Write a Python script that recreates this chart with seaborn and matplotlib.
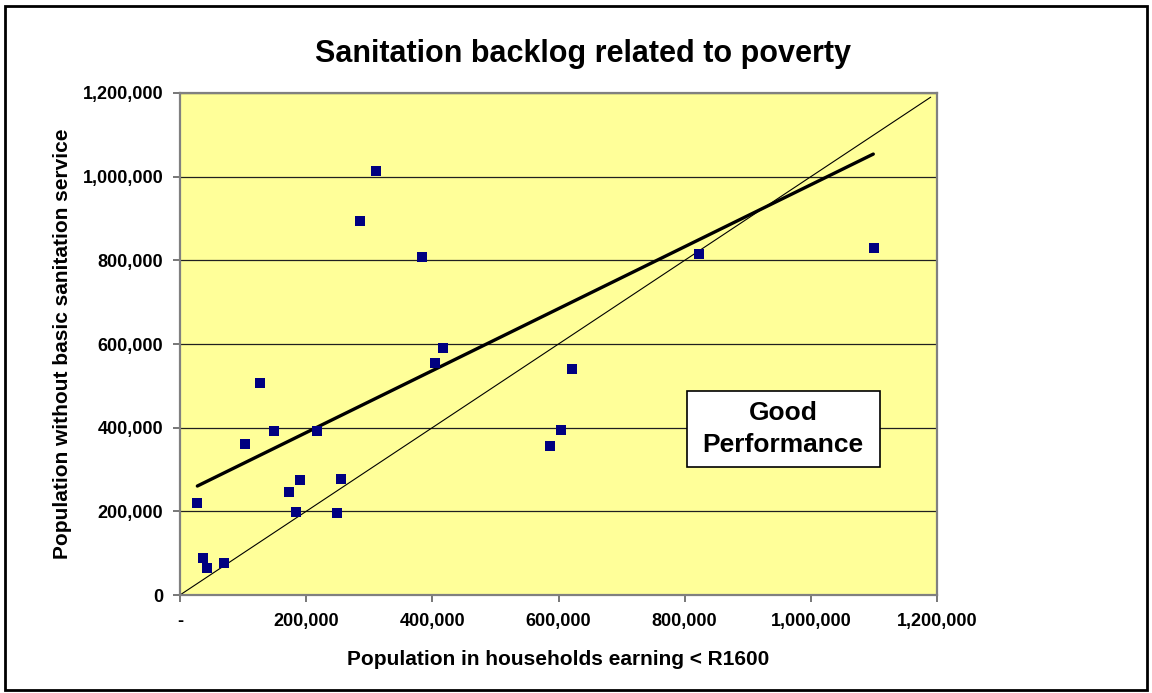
import matplotlib
matplotlib.use("Agg")
import matplotlib.pyplot as plt
import matplotlib.patches as mpatches
from matplotlib.ticker import FuncFormatter, MultipleLocator
import numpy as np
import pandas as pd
import seaborn as sns

# Population in households earning < R1600 (x) vs population without basic sanitation (y)
poor_population = [26400, 37000, 43300, 70300, 102500, 127300, 149500, 173300,
                   184400, 190700, 217600, 249600, 255700, 285800, 310200, 384000,
                   404700, 417300, 587000, 604400, 622000, 822000, 1099500]
no_sanitation = [220600, 89200, 64500, 75700, 360000, 506000, 391000, 245400,
                 199200, 274000, 392700, 195200, 276500, 894600, 1012600, 808600,
                 555200, 589600, 356100, 393600, 539400, 814200, 828600]

# Trend line end points and the equal-ratio reference line
trend_x = [27500, 1099000]
trend_y = [260500, 1054000]
parity_x = [0, 1190000]
parity_y = [0, 1190000]

title_text = "Sanitation backlog related to poverty"
x_label = "Population in households earning < R1600"
y_label = "Population without basic sanitation service"
box_text = "Good\nPerformance"

sns.set_style("ticks")
plt.rcParams["font.family"] = ["Liberation Sans", "DejaVu Sans"]
plt.rcParams["font.weight"] = "bold"
plt.rcParams["text.color"] = "black"
plt.rcParams["axes.labelcolor"] = "black"

points = pd.DataFrame({"x": poor_population, "y": no_sanitation})
trend = pd.DataFrame({"x": trend_x, "y": trend_y})
parity = pd.DataFrame({"x": parity_x, "y": parity_y})

fig = plt.figure(figsize=(11.52, 6.93), dpi=100)
ax = fig.add_axes([180 / 1152, 1 - 595 / 693, (937 - 180) / 1152, (595 - 93) / 693])
ax.set_facecolor("#FFFF99")

ax.set_xlim(0, 1200000)
ax.set_ylim(0, 1200000)
ax.xaxis.set_major_locator(MultipleLocator(200000))
ax.yaxis.set_major_locator(MultipleLocator(200000))
ax.grid(axis="y", color="#202020", linewidth=0.9)
ax.grid(axis="x", visible=False)
ax.set_axisbelow(True)

sns.lineplot(data=parity, x="x", y="y", ax=ax, color="black", linewidth=0.8,
             zorder=2, legend=False)
sns.lineplot(data=trend, x="x", y="y", ax=ax, color="black", linewidth=2.4,
             zorder=3, legend=False)
sns.scatterplot(data=points, x="x", y="y", ax=ax, marker="s", s=55,
                color="#000080", linewidth=0, zorder=4, legend=False)

ax.xaxis.set_major_formatter(FuncFormatter(lambda v, p: "-" if v == 0 else f"{int(v):,}"))
ax.yaxis.set_major_formatter(FuncFormatter(lambda v, p: f"{int(v):,}"))
ax.tick_params(axis="both", labelsize=13, length=5, width=1.2, color="#606060",
               labelcolor="black")
ax.tick_params(axis="x", pad=8)
ax.tick_params(axis="y", pad=7)
for lbl in ax.get_xticklabels() + ax.get_yticklabels():
    lbl.set_fontweight("bold")

for side in ["top", "right", "bottom", "left"]:
    ax.spines[side].set_visible(True)
    ax.spines[side].set_color("#808080")
    ax.spines[side].set_linewidth(1.6)

ax.set_xlabel(x_label, fontsize=15, fontweight="bold")
ax.set_ylabel(y_label, fontsize=15, fontweight="bold")
ax.xaxis.set_label_coords(0.5, -(650 - 595) / 502)
ax.yaxis.set_label_coords(-(180 - 72) / 757, 0.5)
fig.text(583 / 1152, 1 - 54 / 693, title_text, fontsize=22, fontweight="bold",
         ha="center", va="center")

# "Good Performance" callout box
ax.add_patch(mpatches.Rectangle((0.6698, 0.255), 0.2549, 0.1514,
                                transform=ax.transAxes, facecolor="white",
                                edgecolor="black", linewidth=1.2, zorder=5))
ax.text(0.7968, 0.3307, box_text, transform=ax.transAxes, fontsize=19,
        fontweight="bold", ha="center", va="center", linespacing=1.42, zorder=6)

# Chart frame
fig.patches.append(mpatches.Rectangle((5 / 1152, 3 / 693), 1142 / 1152, 684 / 693,
                                      transform=fig.transFigure, fill=False,
                                      edgecolor="black", linewidth=2))

fig.savefig("out.png", dpi=100)
